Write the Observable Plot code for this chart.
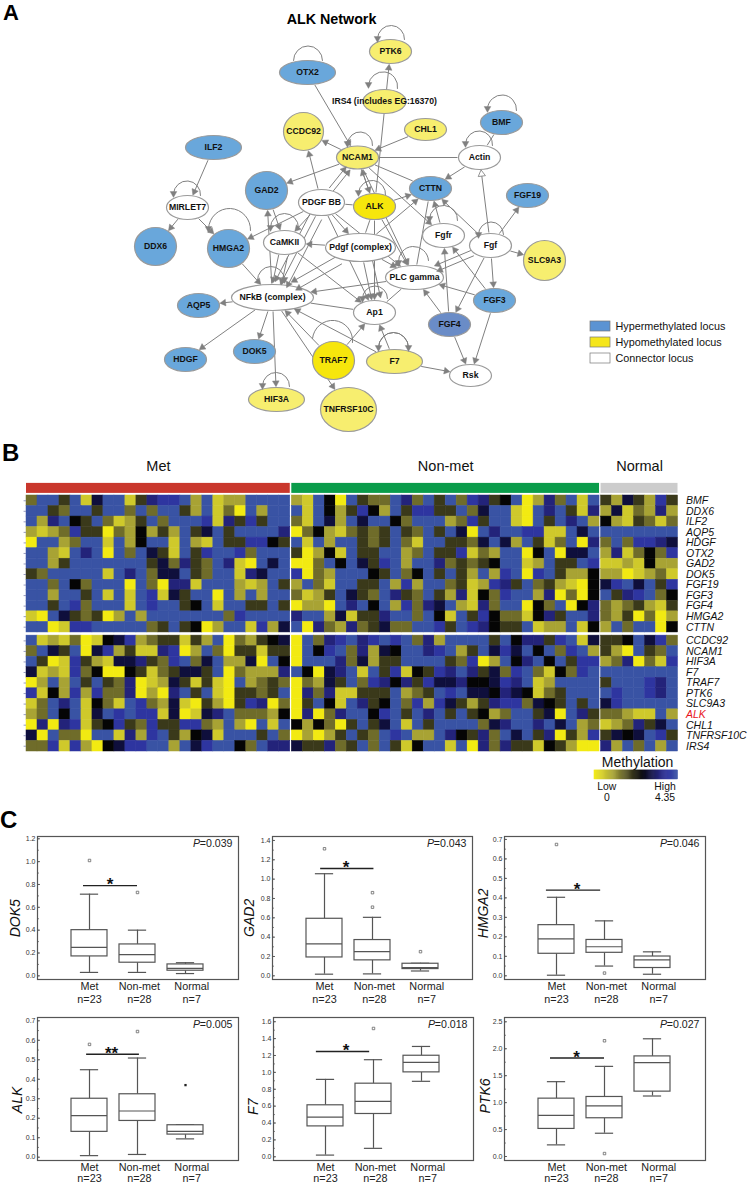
<!DOCTYPE html>
<html>
<head>
<meta charset="utf-8">
<script src="https://cdn.jsdelivr.net/npm/d3@7"></script>
<script src="https://cdn.jsdelivr.net/npm/@observablehq/plot@0.6"></script>
<style>
html,body{margin:0;padding:0;background:#fff;}
#page{position:relative;width:748px;height:1185px;overflow:hidden;font-family:"Liberation Sans",Arial,sans-serif;}
.letter{position:absolute;font:bold 24px "Liberation Sans",Arial,sans-serif;color:#000;line-height:20px;}
</style>
</head>
<body>
<div id="page">
<div class="letter" style="left:3px;top:3px;font-size:22px">A</div>
<div class="letter" style="left:2px;top:443px">B</div>
<div class="letter" style="left:0px;top:810px">C</div>
</div>
<script>
const FONT = "Liberation Sans";

/* ---------- Panel A: network ---------- */
const hyper = ["OTX2","ILF2","BMF","CTTN","FGF19","GAD2","DDX6","HMGA2","AQP5","FGF3","HDGF","DOK5"];
const hypo = ["PTK6","IRS4 (includes EG:16370)","CCDC92","NCAM1","CHL1","SLC9A3","HIF3A","F7","TNFRSF10C"];
const hypoStrong = ["ALK","TRAF7"];
const hyperStrong = ["FGF4"];
const connector = ["Actin","MIRLET7","PDGF BB","CaMKII","Pdgf (complex)","Fgfr","Fgf","PLC gamma","NFkB (complex)","Ap1","Rsk"];

const nodeTable = [
  ["OTX2",307,72,28,12],["PTK6",390,51,21,12],["IRS4 (includes EG:16370)",384,101,21.5,12],
  ["CCDC92",303,131,20,19],["ILF2",213,147,28,12],["NCAM1",357,157,21,11.5],["CHL1",425,129,21,11],
  ["BMF",501,122,21,12],["Actin",479,157,21,12],["CTTN",430,188,21,12],["FGF19",527,195,21,12],
  ["GAD2",266,190,21,19],["MIRLET7",187,207,21,12],["PDGF BB",321,202,23,13],["ALK",374,206,21,13],
  ["DDX6",155,246,21,19],["HMGA2",228,248,21,19],["CaMKII",284,242,21,12],["Pdgf (complex)",360,247,35,14],
  ["Fgfr",443,235,21,12],["Fgf",490,245,21,12],["SLC9A3",544,260,21,20],["PLC gamma",414,277,29,12],
  ["NFkB (complex)",272,297,41,13],["AQP5",198,305,21,12],["Ap1",374,312,21,12],["FGF4",449,324,21,12],
  ["FGF3",494,300,21,12],["HDGF",185,359,21,12],["DOK5",254,351,21,12],["TRAF7",333,360,21,19],
  ["F7",394,361,28,12],["Rsk",470,375,21,11],["HIF3A",276,399,28,12],["TNFRSF10C",348,409,28,22]
];
// from, to, kind (1 = arrow, 0 = plain line, 2 = open arrow), sideways offset
const edgeTable = [
  ["OTX2","NCAM1",1,0],["NCAM1","CCDC92",1,0],["NCAM1","GAD2",1,0],["PDGF BB","CCDC92",1,0],
  ["PDGF BB","NCAM1",1,-3],["PDGF BB","NCAM1",1,2],["ALK","NCAM1",1,0],["NCAM1","ALK",1,0],
  ["ALK","PTK6",1,0],["CHL1","NCAM1",1,0],["NCAM1","Actin",0,0],["Actin","CTTN",1,0],["BMF","Actin",0,0],
  ["Fgf","Actin",2,0],["Fgf","FGF19",1,0],["NCAM1","CTTN",0,0],["NCAM1","Fgfr",1,0],["NCAM1","PLC gamma",1,0],
  ["PDGF BB","ALK",0,0],["ALK","CTTN",1,0],["Pdgf (complex)","CTTN",1,0],["Fgfr","CTTN",1,0],["Fgf","CTTN",1,0],
  ["CTTN","PLC gamma",0,0],["FGF3","Fgfr",1,0],["FGF4","Fgfr",1,0],["Fgf","PLC gamma",1,-3],["Fgf","PLC gamma",1,3],
  ["FGF3","PLC gamma",1,0],["Fgf","FGF4",1,0],["Fgf","FGF3",1,0],["Fgf","SLC9A3",1,0],["FGF3","Rsk",1,0],["FGF4","Rsk",1,0],
  ["FGF4","PLC gamma",1,0],["ILF2","MIRLET7",1,0],["MIRLET7","DDX6",1,0],["MIRLET7","HMGA2",1,0],["PDGF BB","HMGA2",1,0],
  ["NFkB (complex)","GAD2",1,0],["PDGF BB","CaMKII",1,0],["GAD2","CaMKII",1,0],["Pdgf (complex)","CaMKII",1,0],
  ["CaMKII","NFkB (complex)",1,-6],["CaMKII","NFkB (complex)",1,3],["PDGF BB","NFkB (complex)",1,-8],["PDGF BB","NFkB (complex)",1,-1],
  ["PDGF BB","NFkB (complex)",1,5],["Pdgf (complex)","NFkB (complex)",1,-5],["Pdgf (complex)","NFkB (complex)",1,4],
  ["HMGA2","NFkB (complex)",1,0],["CaMKII","Ap1",1,0],["Pdgf (complex)","Ap1",1,-9],["Pdgf (complex)","Ap1",1,0],["ALK","Ap1",1,0],
  ["PDGF BB","Ap1",1,0],["PDGF BB","Pdgf (complex)",1,0],["ALK","Pdgf (complex)",0,0],["ALK","PLC gamma",1,0],
  ["PDGF BB","PLC gamma",1,0],["Pdgf (complex)","PLC gamma",1,0],["PLC gamma","NFkB (complex)",1,0],["PLC gamma","Ap1",0,0],
  ["NFkB (complex)","AQP5",1,0],["NFkB (complex)","HDGF",1,0],["NFkB (complex)","DOK5",1,0],["NFkB (complex)","HIF3A",1,0],
  ["TRAF7","NFkB (complex)",1,0],["NFkB (complex)","TNFRSF10C",1,0],["F7","NFkB (complex)",1,0],["NFkB (complex)","Ap1",0,0],
  ["TRAF7","Ap1",1,0],["F7","Ap1",1,0],["F7","Rsk",1,0]
];
// tail x, tail y, end x, end y, has head
const selfLoops = [
  [322,60,293,60,0],[404,39,377,38,1],[397,88,368,84,1],[372,145,347,143,1],[516,110,487,108,1],[492,145,465,143,1],
  [200,195,173,193,1],[250,230,208,228,1],[298,227,270,227,1],[257,280,284,279,1],[387,298,362,298,1],[408,347,378,347,1],
  [378,347,408,347,0],[312,338,352,342,0],[289,386,262,385,1],[385,195,358,192,1],[428,260,398,262,1],[503,234,478,234,1],[457,220,429,218,1]
];
const extraHeads = [[408,347]];
const legendItems = ["Hypermethylated locus","Hypomethylated locus","Connector locus"];
const legendColors = ["#5b93d3","#f5e61b","#ffffff"];
const legendRows = [326,342,358];

/* ---------- Panel B: heat map (0 = yellow, 5 = black, 9 = blue) ---------- */
const geneLabels = ["BMF","DDX6","ILF2","AQP5","HDGF","OTX2","GAD2","DOK5","FGF19","FGF3","FGF4","HMGA2","CTTN",
  "CCDC92","NCAM1","HIF3A","F7","TRAF7","PTK6","SLC9A3","ALK","CHL1","TNFRSF10C","IRS4"];
const upperRowCount = 13;
const metRows = [
"3 9 9 4 9 1 6 9 9 1 4 7 8 8 9 2 9 1 2 2 9 9 9 9",
"9 9 4 3 9 9 4 9 9 3 9 3 9 9 4 2 9 1 3 0 9 2 9 9",
"9 2 7 9 5 4 9 3 1 2 4 9 3 9 9 9 8 1 7 4 8 4 9 9",
"2 1 2 3 8 4 4 0 3 2 5 2 4 2 9 4 6 9 4 9 9 9 9 7",
"0 9 9 2 3 9 9 1 9 2 5 9 9 1 9 2 1 9 4 4 8 8 5 4",
"9 9 2 1 9 7 9 0 9 3 9 6 4 1 9 4 8 9 9 8 3 9 9 9",
"9 9 2 4 9 9 9 9 9 9 9 4 6 3 7 4 3 9 7 1 0 9 6 9",
"4 3 9 9 9 9 9 1 9 7 9 3 6 6 9 4 3 9 9 1 7 6 9 9",
"9 9 3 9 5 3 9 9 9 0 9 3 0 7 7 1 9 9 9 2 1 2 9 4",
"9 9 2 9 9 4 9 1 9 1 9 8 1 6 4 9 9 0 9 2 9 2 9 9",
"9 9 4 9 8 3 9 9 9 1 9 8 9 9 4 5 9 1 9 9 4 4 9 4",
"1 0 9 6 4 3 4 0 2 9 2 9 9 9 9 9 9 9 3 8 9 9 9 9",
"9 9 0 1 8 8 9 9 9 9 9 3 4 9 4 5 0 2 9 9 1 8 2 6",
"9 1 2 1 3 0 1 5 6 8 2 3 4 4 1 4 2 9 0 3 2 4 5 6",
"3 9 6 4 9 0 6 8 2 4 1 1 7 8 0 2 9 3 0 4 4 1 4 4",
"9 4 0 1 8 4 2 1 6 6 7 4 3 8 9 3 6 9 2 2 6 0 9 5",
"6 1 2 1 8 3 5 0 0 5 4 1 3 4 6 6 4 9 0 3 2 2 2 7",
"0 2 9 2 9 4 9 4 3 7 0 1 2 6 4 1 4 1 0 9 2 3 4 3",
"8 1 5 2 8 2 8 3 3 7 0 2 0 7 9 4 9 1 0 4 4 3 4 9",
"1 3 9 7 9 1 5 3 1 9 8 3 2 6 1 0 4 2 0 4 8 7 0 3",
"2 3 9 5 9 1 6 9 8 9 8 8 1 6 0 1 6 7 9 3 3 3 2 5",
"0 7 0 7 8 1 4 5 8 4 3 8 4 4 8 8 3 2 9 2 0 9 1 9",
"6 0 9 3 3 0 9 9 1 7 2 8 9 4 2 5 6 1 9 9 9 4 9 3",
"3 3 8 1 8 2 0 5 6 8 8 9 9 2 9 6 8 9 9 5 3 9 7 7"];
const nonMetRows = [
"2 1 9 5 0 9 4 3 3 9 7 3 9 4 9 3 8 7 4 5 9 0 2 7 3 9 1 9",
"9 1 9 5 2 4 8 5 2 9 4 8 8 4 4 9 3 6 9 9 1 0 9 7 9 4 1 7",
"3 1 9 6 2 9 6 9 9 5 3 9 9 9 2 3 8 4 9 9 1 0 9 4 9 7 9 2",
"0 3 5 2 1 3 4 3 4 9 4 3 9 4 9 6 0 9 7 9 9 8 8 1 1 9 6 9",
"9 1 9 2 9 9 4 3 4 9 3 1 9 9 4 4 3 6 9 6 2 9 4 1 3 9 0 7",
"4 0 2 5 1 9 4 4 9 9 2 3 9 4 4 8 1 3 2 9 9 0 5 9 0 6 6 9",
"0 0 3 9 5 9 6 4 8 9 2 9 9 7 3 4 3 4 5 9 9 1 2 9 4 4 9 8",
"8 0 3 2 9 9 9 5 4 9 3 5 9 4 9 4 2 9 2 8 9 0 8 9 4 2 2 5",
"2 9 3 1 9 9 4 4 9 2 8 2 9 9 3 4 1 2 8 7 4 9 3 4 2 1 0 5",
"3 1 2 4 9 6 4 3 9 7 4 3 9 4 2 7 1 5 3 8 9 9 2 7 0 3 0 5",
"0 2 2 0 9 7 9 5 9 2 8 3 7 6 9 2 1 7 3 9 9 0 5 3 9 0 5 7",
"7 9 9 2 6 1 4 4 7 9 9 3 9 5 1 9 4 8 5 3 3 1 5 7 4 9 9 7",
"9 0 7 3 2 7 3 4 6 3 3 9 9 8 4 9 8 7 5 4 4 9 1 2 2 9 1 5",
"0 9 3 7 8 9 7 8 9 8 9 3 7 2 9 9 9 9 4 9 5 7 7 4 8 9 1 6",
"0 9 5 8 9 3 7 2 6 5 9 9 7 8 9 2 4 9 6 8 6 9 5 9 3 8 9 2",
"0 9 9 9 7 3 6 2 4 4 9 9 9 9 4 3 8 0 2 9 5 7 9 5 9 4 8 8",
"9 5 0 6 7 9 1 9 4 8 1 5 4 8 7 9 7 4 6 3 8 9 3 1 5 3 8 9",
"0 3 2 6 4 9 3 8 7 5 7 4 8 6 6 7 5 5 6 8 7 9 1 2 9 9 9 9",
"0 7 3 7 1 1 4 4 4 9 2 3 4 9 8 9 6 6 5 7 6 5 1 3 4 9 9 9",
"0 4 9 5 1 9 7 4 5 9 3 8 2 8 6 4 2 4 7 8 8 3 6 5 4 9 4 9",
"0 7 0 3 7 9 9 5 8 9 4 9 7 9 4 9 4 5 2 3 9 9 4 6 0 9 7 4",
"5 2 5 3 0 4 9 4 6 9 1 9 4 9 9 9 9 3 6 7 9 9 7 9 6 9 2 3",
"0 2 0 2 4 9 4 3 9 8 9 2 2 9 7 5 4 7 3 9 6 9 4 7 0 4 2 8",
"6 4 4 7 3 4 9 3 9 4 1 5 9 9 1 9 0 7 3 7 4 4 1 5 4 2 0 0"];
const normalRows = [
"4 2 6 4 2 8 4","2 6 1 3 2 7 2","5 2 1 4 3 1 3","9 9 9 9 9 9 9","3 9 3 8 8 7 6","2 7 1 3 5 3 8","1 1 2 1 5 2 2",
"2 2 0 1 2 3 1","6 8 9 6 9 4 8","9 4 7 8 9 3 5","3 2 3 4 2 1 4","3 2 4 0 3 0 2","2 9 3 9 9 0 5",
"4 4 5 9 6 8 3","4 2 0 9 4 3 9","2 3 7 0 3 1 8","9 9 9 9 9 9 9","4 9 9 9 8 7 9","9 8 9 9 8 7 9","6 8 9 9 9 9 9",
"3 3 2 1 1 9 2","1 2 3 7 4 6 9","4 6 5 6 9 8 4","7 2 9 3 9 2 9"];
const groupNames = ["Met","Non-met","Normal"];
const groupColors = ["#c9372c","#0a9c4a","#cccccc"];
const levelColors = ["#f2ea12","#cfc92b","#a8a334","#6f6c2a","#3a391a","#050505","#0f0f3c","#23237a","#2e35a0","#3953a4"];

/* ---------- Panel C: box plots ---------- */
const boxCategories = ["Met","Non-met","Normal"];
const boxCounts = ["n=23","n=28","n=7"];
const panelGenes = ["DOK5","GAD2","HMGA2","ALK","F7","PTK6"];
const panelP = ["=0.039","=0.043","=0.046","=0.005","=0.018","=0.027"];
const panelStars = ["*","*","*","**","*","*"];
// low whisker, Q1, median, Q3, high whisker
const dok5Boxes = [[.03,.17,.25,.40,.715],[.03,.115,.185,.275,.40],[.02,.045,.065,.10,.115]];
const gad2Boxes = [[.017,.19,.33,.59,1.056],[.02,.16,.25,.37,.605],[.05,.07,.085,.125,.13]];
const hmga2Boxes = [[.003,.113,.19,.26,.403],[.05,.118,.149,.184,.282],[.008,.04,.082,.099,.123]];
const alkBoxes = [[.008,.13,.213,.30,.449],[.014,.186,.237,.323,.509],[.094,.116,.133,.164,.167]];
const f7Boxes = [[.02,.36,.47,.61,.917],[.10,.507,.657,.866,1.15],[.894,1.0,1.118,1.197,1.307]];
const ptk6Boxes = [[.216,.512,.765,1.074,1.389],[.432,.71,.938,1.105,1.673],[1.123,1.204,1.741,1.858,2.185]];
const panelBoxes = [dok5Boxes,gad2Boxes,hmga2Boxes,alkBoxes,f7Boxes,ptk6Boxes];
const dok5Out = [[0,1.01],[1,.73]];
const gad2Out = [[0,1.314],[1,.71],[1,.86],[2,.25]];
const hmga2Out = [[0,.674],[1,.014]];
const alkOut = [[0,.579],[1,.645]];
const f7Out = [[1,1.52]];
const ptk6Out = [[1,2.148],[1,.055]];
const panelOut = [dok5Out,gad2Out,hmga2Out,alkOut,f7Out,ptk6Out];
const panelFilledOut = [[],[],[],[[2,.37]],[],[]];
const panelDomains = [[-.032,1.22],[-.038,1.441],[-.019,.715],[-.017,.717],[-.044,1.65],[-.074,2.58]];
const panelMajor = [.2,.2,.1,.1,.2,.5];
const panelMax = [1.2,1.4,.7,.7,1.6,2.5];
const panelSig = [[.79,-.125,1.0],[1.11,-.08,1.03],[.44,-.21,.92],[.528,-.06,1.04],[1.248,-.19,.92],[1.827,-.125,1.0]];
const panelStarX = [.43,.45,.43,.46,.43,.42];
const panelLabelAt = [.504,.60,.32,.294,.593,1.123];
const panelLabelGap = [22,23,21,20,20,19];
const panelLeft = [37,272,504,37,273,504];
const panelTop = [836,836,836,1017,1017,1017];
const panelWidth = [201,200,201,201,200,201];
const panelHeight = 143;
const labelNudge = [0,.04,.13];

const page = document.getElementById("page");
function place(svg, left, top) {
  svg.style.position = "absolute";
  svg.style.left = left + "px";
  svg.style.top = top + "px";
  svg.style.maxWidth = "none";
  svg.style.overflow = "visible";
  svg.style.background = "transparent";
  page.appendChild(svg);
}

/* ---- network ---- */
function ellipseSymbol(ratio) {
  return {draw(ctx, size) {
    const rx = Math.sqrt(size / Math.PI), ry = rx * ratio, k = 0.5523;
    ctx.moveTo(rx, 0);
    ctx.bezierCurveTo(rx, k * ry, k * rx, ry, 0, ry);
    ctx.bezierCurveTo(-k * rx, ry, -rx, k * ry, -rx, 0);
    ctx.bezierCurveTo(-rx, -k * ry, -k * rx, -ry, 0, -ry);
    ctx.bezierCurveTo(k * rx, -ry, rx, -k * ry, rx, 0);
    ctx.closePath();
  }};
}
const nodes = nodeTable.map(([name, x, y, rx, ry]) => ({name, x, y, rx, ry,
  fill: hyper.includes(name) ? "#69a7db" : hypo.includes(name) ? "#f7ee6f" : hypoStrong.includes(name) ? "#f6e60c"
      : hyperStrong.includes(name) ? "#6a8cc7" : "#ffffff"}));
const byName = new Map(nodes.map(n => [n.name, n]));
function boundary(n, dx, dy, gap) {
  const t = 1 / Math.sqrt((dx / n.rx) ** 2 + (dy / n.ry) ** 2);
  const len = Math.hypot(dx, dy);
  return [t + gap / len];
}
const edges = edgeTable.map(([from, to, kind, off]) => {
  const a = byName.get(from), b = byName.get(to);
  const dx = b.x - a.x, dy = b.y - a.y, len = Math.hypot(dx, dy);
  const px = -dy / len * off, py = dx / len * off;
  const s = boundary(a, dx, dy, 1)[0], e = boundary(b, dx, dy, kind ? 2 : 1)[0];
  const x1 = a.x + px + dx * s, y1 = a.y + py + dy * s, x2 = b.x + px - dx * e, y2 = b.y + py - dy * e;
  return {x1, y1, x2, y2, kind,
    hx: x2 - dx / len * 2.6, hy: y2 - dy / len * 2.6,
    rot: Math.atan2(dx, -dy) * 180 / Math.PI};
});
const loops = selfLoops.map(([x1, y1, x2, y2, head]) => ({x1, y1, x2, y2, head, bend: x2 < x1 ? -90 : 90}));
const heads = edges.filter(e => e.kind === 1);
const openHeads = edges.filter(e => e.kind === 2);
const loopHeads = loops.filter(l => l.head).map(l => ({x: l.x2, y: l.y2, rot: 180}))
  .concat(extraHeads.map(([x, y]) => ({x, y, rot: 180})));

const EDGE = "#808080";
const netMarks = [
  Plot.link(edges, {x1: "x1", y1: "y1", x2: "x2", y2: "y2", stroke: EDGE, strokeWidth: 1}),
  ...[-90, 90].map(b => Plot.arrow(loops.filter(l => l.bend === b), {x1: "x1", y1: "y1", x2: "x2", y2: "y2", bend: b, headLength: 0, stroke: EDGE, strokeWidth: 1})),
  ...nodes.map(n => Plot.dot([n], {x: "x", y: "y", r: n.rx, symbol: ellipseSymbol(n.ry / n.rx), fill: "fill", stroke: "#9a9a9a", strokeWidth: 1.2})),
  Plot.dot(heads, {x: "hx", y: "hy", symbol: "triangle", r: 2.5, rotate: "rot", fill: EDGE, stroke: EDGE, strokeWidth: .4}),
  Plot.dot(openHeads, {x: "hx", y: "hy", symbol: "triangle", r: 2.7, rotate: "rot", fill: "#fff", stroke: EDGE, strokeWidth: .8}),
  Plot.dot(loopHeads, {x: "x", y: "y", symbol: "triangle", r: 2.5, rotate: "rot", fill: EDGE, stroke: EDGE, strokeWidth: .4}),
  Plot.text(nodes, {x: "x", y: "y", text: "name", fontFamily: FONT, fontWeight: "bold", fontSize: 8.7, fill: "#111"}),
  Plot.text(["ALK Network"], {x: () => 331, y: () => 19, text: d => d, fontFamily: FONT, fontWeight: "bold", fontSize: 14.3, fill: "#000"}),
  Plot.rect(legendItems, {x1: () => 590, x2: () => 610, y1: (d, i) => legendRows[i] - 5, y2: (d, i) => legendRows[i] + 5, fill: (d, i) => legendColors[i], stroke: "#777", strokeWidth: .7}),
  Plot.text(legendItems, {x: () => 615, y: (d, i) => legendRows[i], text: d => d, textAnchor: "start", fontFamily: FONT, fontSize: 10.8, fill: "#111"})
];
place(Plot.plot({width: 748, height: 440, margin: 0, x: {domain: [0, 748], range: [0, 748], axis: null}, y: {domain: [0, 440], range: [0, 440], axis: null}, marks: netMarks}), 0, 0);

/* ---- heat map ---- */
const gap = .14, rowGap = .3;
const groupRows = [metRows, nonMetRows, normalRows].map(rs => rs.map(r => r.split(" ").map(Number)));
const groupCols = groupRows.map(r => r[0].length);
const groupStart = [0, groupCols[0] + gap, groupCols[0] + groupCols[1] + 2 * gap];
const colEnd = groupStart[2] + groupCols[2];
const rowTop = r => r + (r >= upperRowCount ? rowGap : 0);
const rowCount = geneLabels.length;
const cells = [];
groupRows.forEach((rows, g) => rows.forEach((vals, r) => vals.forEach((v, c) =>
  cells.push({x1: groupStart[g] + c, x2: groupStart[g] + c + 1, y1: rowTop(r), y2: rowTop(r) + 1, v}))));
const rampSteps = d3.range(0, 9, .1);
const rampX = d3.scaleLinear().domain([0, 9]).range([colEnd - 7.6, colEnd]);
const heatMarks = [
  Plot.rect(cells, {x1: "x1", x2: "x2", y1: "y1", y2: "y2", fill: "v", stroke: "v", strokeWidth: .5}),
  Plot.rect(groupNames, {x1: (d, i) => groupStart[i], x2: (d, i) => groupStart[i] + groupCols[i], y1: () => -1.15, y2: () => -.2, fill: (d, i) => groupColors[i]}),
  Plot.text(groupNames, {x: (d, i) => groupStart[i] + groupCols[i] / 2, y: () => -2.75, text: d => d, fontFamily: FONT, fontSize: 14.5, fill: "#111"}),
  Plot.ruleY(geneLabels.map((d, i) => rowTop(i) + .5), {x1: () => -.22, x2: () => 0, stroke: "#7d83b0", strokeWidth: .8}),
  Plot.text(geneLabels, {x: () => colEnd, y: (d, i) => rowTop(i) + .5, dx: 8, text: d => d, textAnchor: "start", fontFamily: FONT, fontStyle: "italic", fontSize: 10.5, fill: d => d === "ALK" ? "#e8141c" : "#111"}),
  Plot.rect(rampSteps, {x1: d => rampX(d), x2: d => rampX(d + .1), y1: () => 26.1, y2: () => 26.95, fill: d => d, stroke: d => d, strokeWidth: .5}),
  Plot.text(["Methylation"], {x: () => 55.6, y: () => 25.3, text: d => d, fontFamily: FONT, fontSize: 14, fill: "#111"}),
  Plot.text(["Low", "High", "0", "4.35"], {x: (d, i) => [52.8, 58.1, 52.8, 58.1][i], y: (d, i) => i < 2 ? 27.6 : 28.65, text: d => d, fontFamily: FONT, fontSize: 10.4, fill: "#111"})
];
place(Plot.plot({width: 748, height: 350, margin: 0,
  x: {domain: [0, colEnd], range: [26, 677.5], axis: null},
  y: {domain: [0, rowCount + rowGap], range: [40, 296], axis: null},
  color: {type: "linear", domain: d3.range(10), range: levelColors},
  marks: heatMarks}), 0, 455);

/* ---- box plots ---- */
const STROKE = "#555";
panelGenes.forEach((gene, p) => {
  const left = panelLeft[p], w = panelWidth[p], [lo, hi] = panelDomains[p];
  const step = 48, offset = 52;
  const xDomain = [-offset / step, (w - offset) / step];
  const stats = panelBoxes[p].map((b, i) => ({i, lo: b[0], q1: b[1], med: b[2], q3: b[3], hi: b[4]}));
  const major = d3.range(0, panelMax[p] + 1e-6, panelMajor[p]);
  const minor = d3.range(0, panelMax[p] + 1e-6, panelMajor[p] / 2);
  const half = .375, cap = .19;
  const [sy, s1, s2] = panelSig[p];
  const bottomRow = p >= 3;
  const marks = [
    Plot.frame({stroke: STROKE, strokeWidth: 1.2}),
    Plot.ruleY(minor, {x1: xDomain[0], x2: xDomain[0] + 2 / step, stroke: STROKE, strokeWidth: .7}),
    Plot.ruleY(major, {x1: xDomain[0], x2: xDomain[0] + 3 / step, stroke: STROKE, strokeWidth: .9}),
    Plot.text(major, {frameAnchor: "left", y: d => d, dx: -2, textAnchor: "end", text: d => d.toFixed(1), fontFamily: FONT, fontSize: 7, fill: "#333"}),
    Plot.ruleX(stats, {x: "i", y1: "lo", y2: "q1", stroke: STROKE, strokeWidth: 1.2}),
    Plot.ruleX(stats, {x: "i", y1: "q3", y2: "hi", stroke: STROKE, strokeWidth: 1.2}),
    Plot.ruleY(stats, {y: "lo", x1: d => d.i - cap, x2: d => d.i + cap, stroke: STROKE, strokeWidth: 1.2}),
    Plot.ruleY(stats, {y: "hi", x1: d => d.i - cap, x2: d => d.i + cap, stroke: STROKE, strokeWidth: 1.2}),
    Plot.rect(stats, {x1: d => d.i - half, x2: d => d.i + half, y1: "q1", y2: "q3", fill: "#fff", stroke: STROKE, strokeWidth: 1.2}),
    Plot.ruleY(stats, {y: "med", x1: d => d.i - half, x2: d => d.i + half, stroke: STROKE, strokeWidth: 1.2}),
    Plot.dot(panelOut[p], {x: d => d[0], y: d => d[1], symbol: "square", r: 1.4, fill: "#fff", stroke: "#666", strokeWidth: .8}),
    Plot.dot(panelFilledOut[p], {x: d => d[0], y: d => d[1], symbol: "square", r: 1.3, fill: "#222"}),
    Plot.ruleY([sy], {x1: s1, x2: s2, stroke: "#222", strokeWidth: 1.4}),
    Plot.text([panelStars[p]], {x: () => panelStarX[p], y: () => sy, dy: -1, lineAnchor: "middle", text: d => d, fontFamily: FONT, fontWeight: "bold", fontSize: 17, fill: "#111"}),
    Plot.text([gene], {frameAnchor: "left", y: () => panelLabelAt[p], dx: -panelLabelGap[p], rotate: -90, textAnchor: "middle", text: d => d, fontFamily: FONT, fontStyle: "italic", fontSize: 14, fill: "#111"}),
    Plot.text([panelP[p]], {frameAnchor: "top-right", dx: -6, dy: 3, textAnchor: "end", lineAnchor: "top", text: d => d, fontFamily: FONT, fontSize: 10.6, fill: "#222"}),
    Plot.text(["P"], {frameAnchor: "top-right", dx: -38.5, dy: 3, textAnchor: "end", lineAnchor: "top", text: d => d, fontFamily: FONT, fontStyle: "italic", fontSize: 10.6, fill: "#222"}),
    Plot.text(boxCategories, {x: (d, i) => i + labelNudge[i], y: () => lo, dy: 7, lineAnchor: "middle", text: d => d, fontFamily: FONT, fontSize: 10.8, fill: "#222"}),
    Plot.text(boxCounts, {x: (d, i) => i + labelNudge[i], y: () => lo, dy: bottomRow ? 18.5 : 20, lineAnchor: "middle", text: d => d, fontFamily: FONT, fontSize: 10.8, fill: "#222"})
  ];
  place(Plot.plot({
    width: 37 + w + 2, height: panelHeight + 1 + 24,
    marginLeft: 37, marginRight: 2, marginTop: 1, marginBottom: 24,
    x: {domain: xDomain, axis: null},
    y: {domain: [lo, hi], axis: null},
    marks
  }), left - 37, panelTop[p] - 1);
});
</script>
</body>
</html>
